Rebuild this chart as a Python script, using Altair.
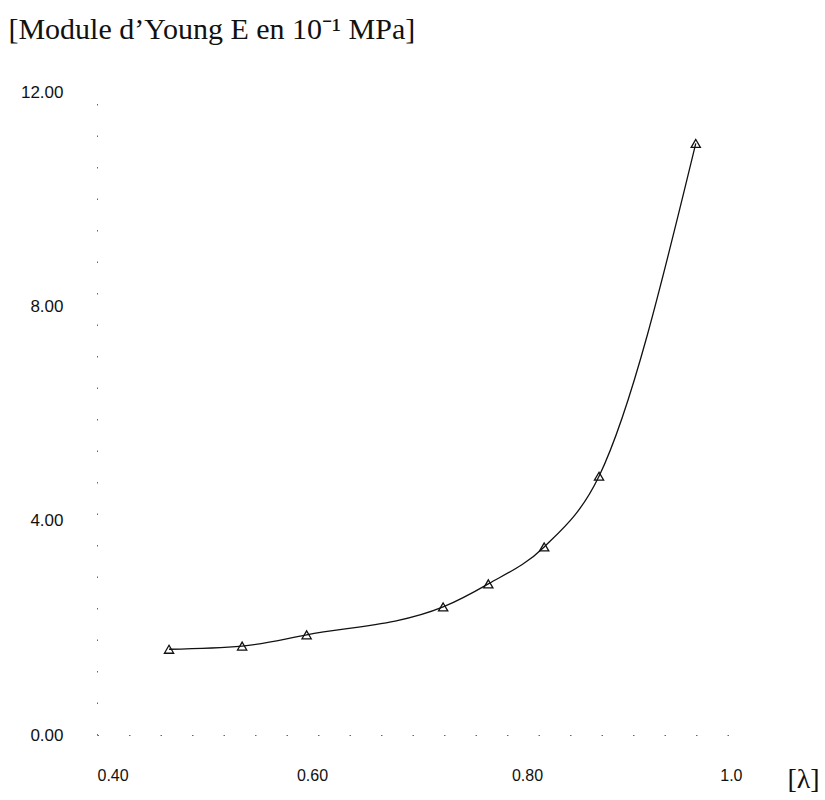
import altair as alt
import pandas as pd

# data
lam = [0.467, 0.535, 0.595, 0.722, 0.764, 0.816, 0.867, 0.957]
young = [1.60, 1.66, 1.87, 2.39, 2.82, 3.51, 4.83, 11.04]
x_ticks = [0.40, 0.60, 0.80, 1.0]
y_ticks = [0, 4, 8, 12]

df = pd.DataFrame({"lam": lam, "E": young})

x_enc = alt.X(
    "lam:Q",
    scale=alt.Scale(domain=[0.40, 1.0], nice=False, zero=False),
    axis=alt.Axis(
        values=x_ticks,
        labelExpr="datum.value == 1 ? '1.0' : format(datum.value, '.2f')",
        ticks=False,
        grid=False,
        domain=True,
        domainColor="#666666",
        domainDash=[1.5, 30],
        domainWidth=1,
        labelPadding=32,
        labelFont="Liberation Sans",
        labelFontSize=16,
        labelColor="#111111",
        title="[λ]",
        titleFont="Liberation Serif",
        titleFontSize=28,
        titleFontWeight="normal",
        titleColor="#111111",
        titleX=706,
        titleY=44,
        titleAlign="center",
        titleBaseline="middle",
    ),
)
y_enc = alt.Y(
    "E:Q",
    scale=alt.Scale(domain=[0, 12], nice=False),
    axis=alt.Axis(
        values=y_ticks,
        labelExpr="format(datum.value, '.2f')",
        ticks=False,
        grid=False,
        domain=True,
        domainColor="#666666",
        domainDash=[1.5, 30],
        domainWidth=1,
        labelPadding=34,
        labelFont="Liberation Sans",
        labelFontSize=17,
        labelColor="#111111",
        title=None,
    ),
)

line = alt.Chart(df).mark_line(
    interpolate="monotone", color="#111111", strokeWidth=1.3
).encode(x=x_enc, y=y_enc)

pts = alt.Chart(df).mark_point(
    shape="triangle-up", filled=False, color="#111111", size=85, strokeWidth=1.3, opacity=1
).encode(x=x_enc, y=y_enc)

chart = (
    alt.layer(line, pts)
    .properties(
        width=645,
        height=643,
        padding={"left": 97, "top": 92, "right": 83, "bottom": 65},
        autosize=alt.AutoSizeParams(type="none"),
        background="white",
        title=alt.TitleParams(
            "[Module d\u2019Young E en 10\u207b\u00b9 MPa]",
            anchor="start",
            frame="bounds",
            font="Liberation Serif",
            fontSize=30,
            fontWeight="normal",
            color="#111111",
            dx=-12,
            dy=-34,
        ),
    )
    .configure_view(stroke=None)
)

chart.save("out.html", embed_options={"renderer": "svg", "actions": False})
